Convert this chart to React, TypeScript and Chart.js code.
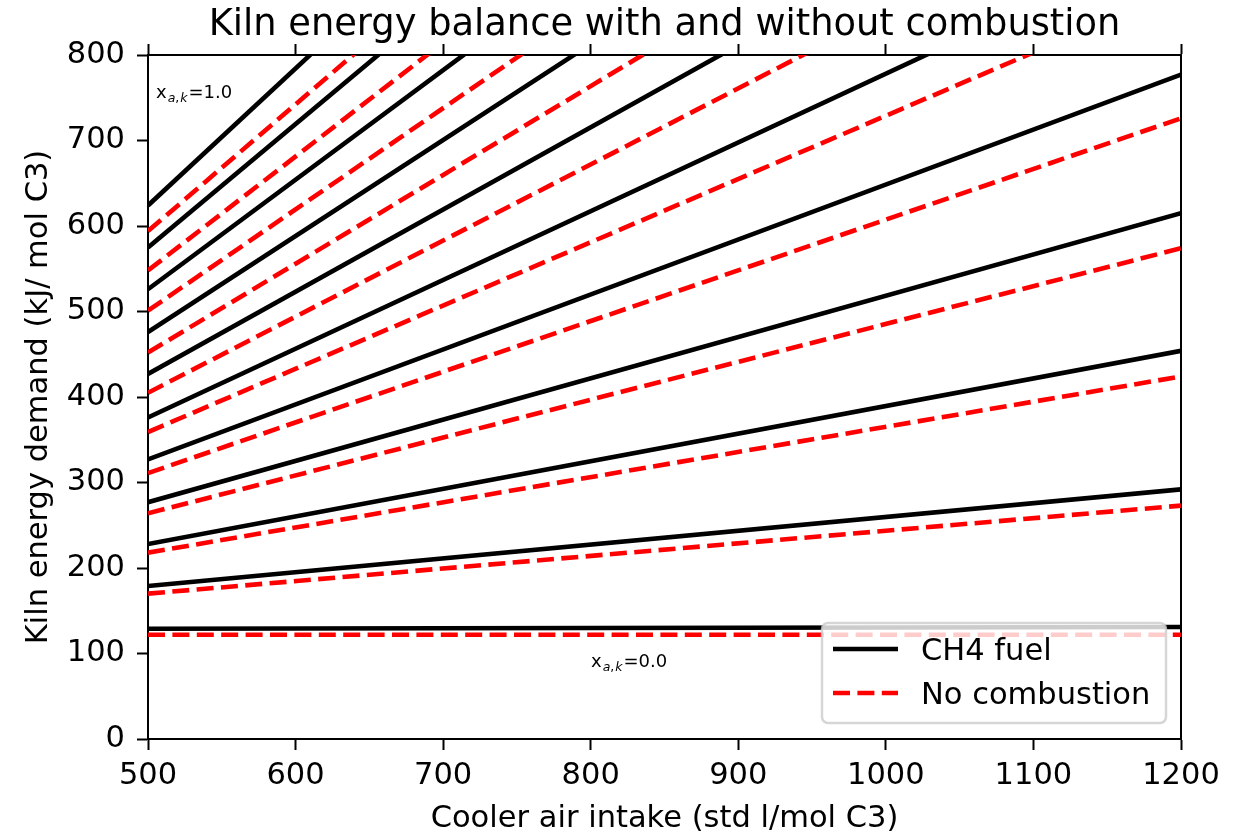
import React, { useEffect, useRef } from "react";
import { Chart, registerables } from "chart.js";

Chart.register(...registerables);

// ---- Data ----
const X_ENDS = [500, 1200]; // cooler air intake (std l/mol C3)
const XAK_LEVELS = [0.0, 0.1, 0.2, 0.3, 0.4, 0.5, 0.6, 0.7, 0.8, 0.9, 1.0];
const CH4_AT_500 = [129, 179, 228, 277, 327, 376, 427, 476, 526, 575, 624];
const CH4_AT_1200 = [131, 292, 454, 615, 777, 939, 1100, 1262, 1423, 1585, 1746];
const NOCOMB_AT_500 = [122, 170, 218, 264, 311, 359, 405, 452, 501, 548, 594];
const NOCOMB_AT_1200 = [122, 273, 424, 574, 726, 877, 1028, 1179, 1330, 1481, 1632];
const X_TICKS = [500, 600, 700, 800, 900, 1000, 1100, 1200];
const Y_TICKS = [0, 100, 200, 300, 400, 500, 600, 700, 800];

const TITLE = "Kiln energy balance with and without combustion";
const X_LABEL = "Cooler air intake (std l/mol C3)";
const Y_LABEL = "Kiln energy demand (kJ/ mol C3)";
const LEGEND_LABELS = ["CH4 fuel", "No combustion"];
const ANNOT_HIGH = "1.0";
const ANNOT_LOW = "0.0";

const FONT = "'DejaVu Sans', sans-serif";
const BLACK = "#000000";
const RED = "#ff0000";
const LW = 4.6;
const DASH = [17, 7.4];

const overlayPlugin = {
  id: "overlay",
  afterDraw(chart: any) {
    const ctx = chart.ctx as CanvasRenderingContext2D;
    const ca = chart.chartArea;
    ctx.save();

    // title, centred over the plot area
    ctx.fillStyle = BLACK;
    ctx.font = `36.8px ${FONT}`;
    ctx.textAlign = "center";
    ctx.textBaseline = "alphabetic";
    ctx.fillText(TITLE, (ca.left + ca.right) / 2, 35);

    const drawAnnot = (x: number, base: number, val: string) => {
      ctx.fillStyle = BLACK;
      ctx.textBaseline = "alphabetic";
      ctx.textAlign = "left";
      ctx.font = `18px ${FONT}`;
      ctx.fillText("x", x, base);
      let cx = x + ctx.measureText("x").width + 1;
      const sb = base + 4;
      ctx.font = `italic 12.5px ${FONT}`;
      ctx.fillText("a", cx, sb);
      cx += ctx.measureText("a").width;
      ctx.font = `12.5px ${FONT}`;
      ctx.fillText(",", cx, sb);
      cx += ctx.measureText(",").width + 1;
      ctx.font = `italic 12.5px ${FONT}`;
      ctx.fillText("k", cx, sb);
      cx += ctx.measureText("k").width + 1;
      ctx.font = `18px ${FONT}`;
      ctx.fillText("=" + val, cx, base);
    };
    drawAnnot(ca.left + 8, ca.top + 43, ANNOT_HIGH);
    drawAnnot(ca.left + 443, ca.top + 612, ANNOT_LOW);

    // legend box
    const bx = ca.right - 359, by = ca.bottom - 116, bw = 344, bh = 100, r = 6;
    ctx.beginPath();
    ctx.moveTo(bx + r, by);
    ctx.lineTo(bx + bw - r, by);
    ctx.arcTo(bx + bw, by, bx + bw, by + r, r);
    ctx.lineTo(bx + bw, by + bh - r);
    ctx.arcTo(bx + bw, by + bh, bx + bw - r, by + bh, r);
    ctx.lineTo(bx + r, by + bh);
    ctx.arcTo(bx, by + bh, bx, by + bh - r, r);
    ctx.lineTo(bx, by + r);
    ctx.arcTo(bx, by, bx + r, by, r);
    ctx.closePath();
    ctx.fillStyle = "rgba(255,255,255,0.8)";
    ctx.fill();
    ctx.lineWidth = 2.5;
    ctx.strokeStyle = "rgba(204,204,204,0.8)";
    ctx.stroke();

    const entries = [
      { label: LEGEND_LABELS[0], color: BLACK, dash: [] as number[], y: by + 26 },
      { label: LEGEND_LABELS[1], color: RED, dash: DASH, y: by + 70 },
    ];
    for (const e of entries) {
      ctx.beginPath();
      ctx.setLineDash(e.dash);
      ctx.lineCap = "butt";
      ctx.strokeStyle = e.color;
      ctx.lineWidth = LW;
      ctx.moveTo(bx + 11, e.y);
      ctx.lineTo(bx + 76, e.y);
      ctx.stroke();
      ctx.setLineDash([]);
      ctx.fillStyle = BLACK;
      ctx.font = `30.5px ${FONT}`;
      ctx.textAlign = "left";
      ctx.textBaseline = "alphabetic";
      ctx.fillText(e.label, bx + 99, e.y + 11);
    }
    ctx.restore();
  },
};

export default function App() {
  const ref = useRef<HTMLCanvasElement | null>(null);

  useEffect(() => {
    if (!ref.current) return;
    const datasets: any[] = [];
    XAK_LEVELS.forEach((lvl, k) => {
      datasets.push({
        label: `CH4 fuel x=${lvl}`,
        data: [
          { x: X_ENDS[0], y: CH4_AT_500[k] },
          { x: X_ENDS[1], y: CH4_AT_1200[k] },
        ],
        borderColor: BLACK,
        backgroundColor: BLACK,
        borderWidth: LW,
        pointRadius: 0,
        fill: false,
        tension: 0,
        clip: 0,
        xAxisID: "x",
        yAxisID: "y",
      });
      datasets.push({
        label: `No combustion x=${lvl}`,
        data: [
          { x: X_ENDS[0], y: NOCOMB_AT_500[k] },
          { x: X_ENDS[1], y: NOCOMB_AT_1200[k] },
        ],
        borderColor: RED,
        backgroundColor: RED,
        borderWidth: LW,
        borderDash: DASH,
        borderCapStyle: "butt",
        pointRadius: 0,
        fill: false,
        tension: 0,
        clip: 0,
        xAxisID: "x",
        yAxisID: "y",
      });
    });

    const tickFont = { family: FONT, size: 30.5, lineHeight: 1.2 };
    const axisGrid = {
      drawOnChartArea: false,
      drawTicks: true,
      tickLength: 11,
      tickWidth: 2,
      tickColor: BLACK,
      color: BLACK,
    };
    const border = { display: true, color: BLACK, width: 2 };

    const chart = new Chart(ref.current, {
      type: "line",
      data: { datasets },
      plugins: [overlayPlugin],
      options: {
        animation: false,
        responsive: false,
        devicePixelRatio: 1,
        layout: { padding: { left: 0, top: 44, right: 59, bottom: 0 } },
        plugins: {
          legend: { display: false },
          tooltip: { enabled: false },
          title: { display: false },
        },
        scales: {
          x: {
            type: "linear",
            axis: "x",
            position: "bottom",
            min: 500,
            max: 1200,
            afterBuildTicks: (s: any) => {
              s.ticks = X_TICKS.map((v) => ({ value: v }));
            },
            ticks: {
              color: BLACK,
              font: tickFont,
              padding: 8,
              maxRotation: 0,
              autoSkip: false,
              callback: (v: any) => String(v),
            },
            grid: axisGrid,
            border,
            title: {
              display: true,
              text: X_LABEL,
              color: BLACK,
              font: tickFont,
              padding: { top: 0, bottom: -5.3 },
            },
            afterFit: (s: any) => {
              s.height = 93;
            },
          },
          x2: {
            type: "linear",
            axis: "x",
            position: "top",
            min: 500,
            max: 1200,
            afterBuildTicks: (s: any) => {
              s.ticks = X_TICKS.map((v) => ({ value: v }));
            },
            ticks: { display: false },
            grid: axisGrid,
            border,
            afterFit: (s: any) => {
              s.height = 11;
            },
          },
          y: {
            type: "linear",
            axis: "y",
            position: "left",
            min: 0,
            max: 800,
            afterBuildTicks: (s: any) => {
              s.ticks = Y_TICKS.map((v) => ({ value: v }));
            },
            ticks: {
              color: BLACK,
              font: tickFont,
              padding: 12,
              autoSkip: false,
              callback: (v: any) => String(v),
            },
            grid: axisGrid,
            border,
            title: {
              display: true,
              text: Y_LABEL,
              color: BLACK,
              font: tickFont,
              padding: { top: 21, bottom: 0 },
            },
            afterFit: (s: any) => {
              s.width = 148;
            },
          },
          y2: {
            type: "linear",
            axis: "y",
            position: "right",
            min: 0,
            max: 800,
            ticks: { display: false },
            grid: { display: false, drawTicks: false },
            border,
            afterFit: (s: any) => {
              s.width = 0;
            },
          },
        },
      } as any,
    });
    return () => chart.destroy();
  }, []);

  return (
    <div style={{ position: "absolute", left: 0, top: 0, width: 1240, height: 832, background: "#fff" }}>
      <canvas ref={ref} width={1240} height={832} style={{ display: "block", width: 1240, height: 832 }} />
    </div>
  );
}
